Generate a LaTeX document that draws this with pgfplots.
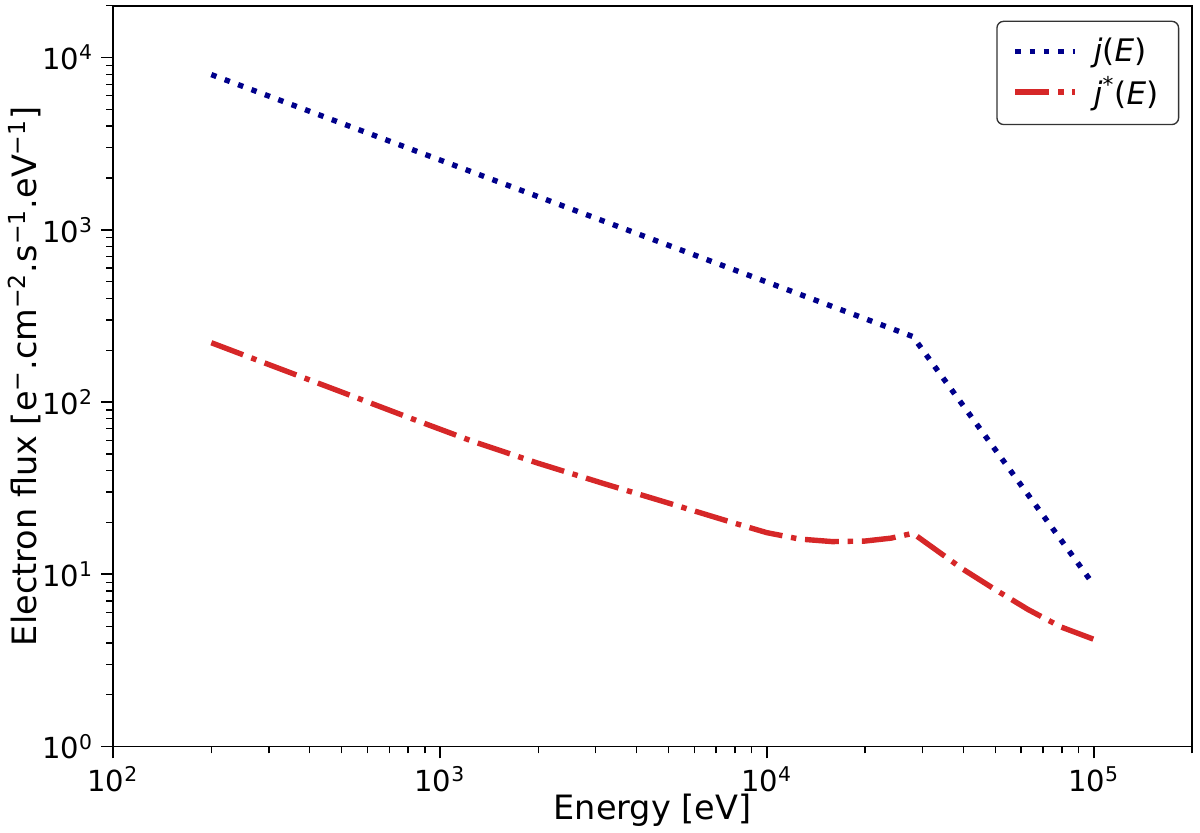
\documentclass[border=0pt]{standalone}
\usepackage{fontspec}
\setmainfont{DejaVu Sans}
\usepackage{pgfplots}
\pgfplotsset{compat=1.18}
\definecolor{jblue}{HTML}{00008B}
\definecolor{jred}{HTML}{D62728}
\begin{document}
\begin{tikzpicture}
\begin{axis}[name=ax, scale only axis, width=479.6pt, height=329.3pt,
  xmode=log, ymode=log, xmin=100, xmax=200000, ymin=1, ymax=20000,
  tick align=outside, tick pos=left,
  major tick length=5.3pt, minor tick length=3pt,
  major tick style={line width=0.8pt, black},
  minor tick style={line width=0.6pt, black},
  axis line style={line width=0.8pt},
  xtick={100,1000,10000,100000},
  xticklabels={10\textsuperscript{2},10\textsuperscript{3},10\textsuperscript{4},10\textsuperscript{5}},
  minor xtick={200,300,400,500,600,700,800,900,2000,3000,4000,5000,6000,7000,8000,9000,20000,30000,40000,50000,60000,70000,80000,90000,200000},
  ytick={1,10,100,1000,10000},
  yticklabels={10\textsuperscript{0},10\textsuperscript{1},10\textsuperscript{2},10\textsuperscript{3},10\textsuperscript{4}},
  minor ytick={2,3,4,5,6,7,8,9,20,30,40,50,60,70,80,90,200,300,400,500,600,700,800,900,2000,3000,4000,5000,6000,7000,8000,9000,20000},
  tick label style={font=\fontsize{12.9}{15}\selectfont},
  label style={font=\fontsize{14.9}{17}\selectfont},
  xlabel={Energy [eV]},
  ylabel={Electron flux [e\textsuperscript{−}.cm\textsuperscript{−2}.s\textsuperscript{−1}.eV\textsuperscript{−1}]},
  xlabel style={at={(axis description cs:0.5,-0.0989)}, anchor=base},
  ylabel style={at={(axis description cs:-0.0704,0.5)}, anchor=base},
  legend style={at={(axis description cs:0.9882,0.9798)}, anchor=north east,
    draw=black!80, rounded corners=3pt, line width=0.6pt,
    font=\fontsize{13.8}{16}\selectfont, row sep=1pt, column sep=5pt,
    inner xsep=7pt, inner ysep=5.5pt},
  legend cell align=left,
  legend image code/.code={\draw[#1] (0pt,0pt) -- (26.7pt,0pt);},
]
\addplot[jblue, line width=2.4pt, dash pattern=on 2.4pt off 3.95pt] coordinates {
  (200,7960) (28000,240) (100000,8.7)
};
\addlegendentry{\textit{j}(\textit{E})}
\addplot[jred, line width=2.4pt, dash pattern=on 15.1pt off 3.9pt on 2.4pt off 3.9pt] coordinates {
  (200,221) (316,159) (501,114.3) (794,82.0) (1259,59.2) (1995,44.2) (3162,33.7)
  (5012,25.9) (7943,19.86) (10000,17.46) (12589,16.03) (15849,15.49) (19953,15.60)
  (23988,16.22) (28000,17.3) (31623,14.66) (39811,10.72) (50119,8.13) (63096,6.24)
  (79433,4.95) (100000,4.2)
};
\addlegendentry{\textit{j}\textsuperscript{*}(\textit{E})}
\end{axis}
\pgfresetboundingbox
\path ([xshift=-50.2pt,yshift=-38.35pt]ax.south west) rectangle ([xshift=3.56pt,yshift=2.53pt]ax.north east);
\end{tikzpicture}
\end{document}
